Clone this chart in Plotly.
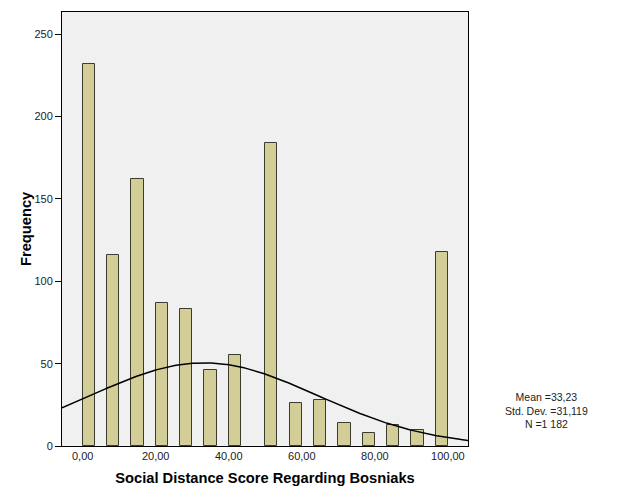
import numpy as np
import plotly.graph_objects as go

# Histogram data (bin width = 100/30)
bin_width = 100 / 30
bin_centers = [1.667, 8.333, 15.0, 21.667, 28.333, 35.0, 41.667, 51.667,
               58.333, 65.0, 71.667, 78.333, 85.0, 91.667, 98.333]
frequencies = [232, 116, 162, 87, 83, 46, 55, 184, 26, 28, 14, 8, 13, 10, 118]

mean_val = 33.23
std_val = 31.119
n_val = 1182

x_ticks = [0, 20, 40, 60, 80, 100]
x_tick_labels = ["0,00", "20,00", "40,00", "60,00", "80,00", "100,00"]
y_ticks = [0, 50, 100, 150, 200, 250]

x_range = [-5.66, 105.5]
y_range = [0, 263.5]

# Normal curve from the shown statistics
xc = np.linspace(x_range[0], x_range[1], 300)
yc = n_val * bin_width / (std_val * np.sqrt(2 * np.pi)) * np.exp(-0.5 * ((xc - mean_val) / std_val) ** 2)

L, R, T, B = 62, 156, 12, 55
W, H = 624, 501
pw = W - L - R
ph = H - T - B

fig = go.Figure()
fig.add_trace(go.Bar(
    x=bin_centers, y=frequencies, width=bin_width,
    marker=dict(color="#D3CE97", line=dict(color="#3B3B2E", width=1)),
    showlegend=False, hoverinfo="x+y",
))
fig.add_trace(go.Scatter(
    x=xc, y=yc, mode="lines", line=dict(color="#000000", width=1.5),
    showlegend=False, hoverinfo="skip",
))

fig.update_layout(
    width=W, height=H,
    margin=dict(l=L, r=R, t=T, b=B),
    paper_bgcolor="white", plot_bgcolor="#F0F0F0",
    font=dict(family="Liberation Sans, Arial, sans-serif", color="#222222"),
    bargap=0,
    annotations=[
        dict(
            x=(546 - L) / pw, y=(ph - (410 - T)) / ph, xref="paper", yref="paper",
            xanchor="center", yanchor="middle", showarrow=False,
            text="Mean =33,23<br>Std. Dev. =31,119<br>N =1 182",
            font=dict(size=10.5, color="#222222"), align="center",
        ),
        dict(
            x=(26 - L) / pw, y=0.5, xref="paper", yref="paper",
            xanchor="center", yanchor="middle", showarrow=False, textangle=-90,
            text="<b>Frequency</b>", font=dict(size=14.7, color="black"),
        ),
    ],
)

fig.update_xaxes(
    range=x_range, tickvals=x_ticks, ticktext=x_tick_labels,
    showgrid=False, zeroline=False, showline=True, linecolor="black", linewidth=1,
    mirror=True, ticks="", tickfont=dict(size=11),
    title=dict(text="<b>Social Distance Score Regarding Bosniaks</b>", font=dict(size=14.7, color="black"), standoff=11),
)
fig.update_yaxes(
    range=y_range, tickvals=y_ticks,
    showgrid=False, zeroline=False, showline=True, linecolor="black", linewidth=1,
    mirror=True, ticks="outside", ticklen=6, tickcolor="black", tickfont=dict(size=11),
)

fig.write_html("out.html")
